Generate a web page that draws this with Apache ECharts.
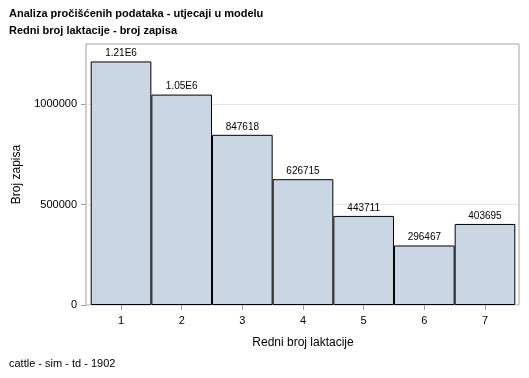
<!DOCTYPE html>
<html><head><meta charset="utf-8">
<script src="https://cdn.jsdelivr.net/npm/echarts@6/dist/echarts.min.js"></script>
<style>html,body{margin:0;padding:0;background:#fff}#c{width:529px;height:378px}</style>
</head><body><div id="c"></div>
<script>
const categories = ['1','2','3','4','5','6','7'];
const counts = [1213000, 1048000, 847618, 626715, 443711, 296467, 403695];
const yTicks = [0, 500000, 1000000];

const FONT = '"Liberation Sans", Arial, sans-serif';
const fmt = v => v >= 1e6 ? (v/1e6).toFixed(2) + 'E6' : String(v);

const chart = echarts.init(document.getElementById('c'), null, {renderer:'canvas'});
chart.setOption({
  animation:false,
  backgroundColor:'#fff',
  textStyle:{fontFamily:FONT},
  title:[
    {text:'Analiza pročišćenih podataka - utjecaji u modelu', left:9, top:8, padding:0,
     textStyle:{fontFamily:FONT,fontSize:11,fontWeight:'bold',color:'#000'}},
    {text:'Redni broj laktacije - broj zapisa', left:9, top:25, padding:0,
     textStyle:{fontFamily:FONT,fontSize:11,fontWeight:'bold',color:'#000'}},
    {text:'cattle - sim - td - 1902', left:9, top:358, padding:0,
     textStyle:{fontFamily:FONT,fontSize:11,fontWeight:'normal',color:'#000'}}
  ],
  grid:[
    {left:86, right:10, top:44, bottom:73, show:true, borderColor:'#a0a0a0', borderWidth:1, backgroundColor:'#fff'},
    {left:90.7, right:13.7, top:44, bottom:73}
  ],
  xAxis:[
    {type:'value', gridIndex:0, min:0, max:1, show:false},
    {type:'category', gridIndex:1, data:categories,
     name:'Redni broj laktacije', nameLocation:'middle', nameGap:32,
     nameTextStyle:{fontFamily:FONT,fontSize:12,color:'#000'},
     axisLine:{show:false},
     axisTick:{show:true, alignWithLabel:true, length:5, lineStyle:{color:'#a0a0a0'}},
     axisLabel:{fontFamily:FONT,fontSize:11,color:'#000',margin:10},
     splitLine:{show:false}}
  ],
  yAxis:[
    {type:'value', gridIndex:0, min:0, max:1300000, interval:500000,
     name:'Broj zapisa', nameLocation:'middle', nameGap:63,
     nameTextStyle:{fontFamily:FONT,fontSize:12,color:'#000'},
     axisLine:{show:false},
     axisTick:{show:true, length:5, lineStyle:{color:'#a0a0a0'}, customValues:yTicks},
     axisLabel:{fontFamily:FONT,fontSize:11,color:'#000',margin:9, customValues:yTicks,
       formatter:v=>String(v)},
     splitLine:{show:true, lineStyle:{color:'#e2e2e2',width:1}}},
    {type:'value', gridIndex:1, min:0, max:1300000, show:false}
  ],
  series:[{
    type:'bar', xAxisIndex:1, yAxisIndex:1, data:counts,
    barCategoryGap:0, barWidth:'100%',
    itemStyle:{color:'#cbd6e5', borderColor:'#000', borderWidth:1},
    label:{show:true, position:'top', distance:3, formatter:p=>fmt(p.value),
      fontFamily:FONT, fontSize:10, color:'#000'}
  }]
});
</script></body></html>
